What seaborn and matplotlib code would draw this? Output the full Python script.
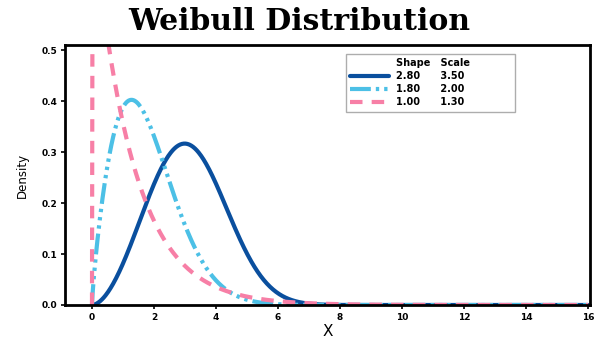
import numpy as np
import pandas as pd
import matplotlib
matplotlib.use("Agg")
import matplotlib.pyplot as plt
import seaborn as sns
from matplotlib.lines import Line2D

# Distribution parameters (from legend)
shapes = [2.80, 1.80, 1.00]
scales = [3.50, 2.00, 1.30]
colors = ["#0a4f9e", "#4cc0e6", "#f77fa6"]
x_ticks = [0, 2, 4, 6, 8, 10, 12, 14, 16]
y_ticks = [0.0, 0.1, 0.2, 0.3, 0.4, 0.5]

x = np.linspace(0, 16, 801)

def weibull_pdf(xv, k, lam):
    out = np.zeros_like(xv)
    m = xv > 0
    z = xv[m] / lam
    out[m] = (k / lam) * z ** (k - 1) * np.exp(-z ** k)
    return out

frames = []
for k, lam in zip(shapes, scales):
    frames.append(pd.DataFrame({"x": x, "density": weibull_pdf(x, k, lam),
                                "series": f"{k:.2f} {lam:.2f}"}))
df = pd.concat(frames, ignore_index=True)

sns.set_theme(style="white")
plt.rcParams["font.family"] = ["DejaVu Sans"]
plt.rcParams["text.color"] = "black"
plt.rcParams["axes.labelcolor"] = "black"
plt.rcParams["xtick.color"] = "black"
plt.rcParams["ytick.color"] = "black"

fig = plt.figure(figsize=(5.99, 3.39), dpi=100)
ax = fig.add_axes([65 / 599, 1 - 305 / 339, 525 / 599, 260 / 339])

dashes = [(None, None), (5, 1.2, 0.8, 1.2, 0.8, 1.2, 0.8, 1.2), (3, 2.2)]
series_names = df["series"].unique()
for name, c, d in zip(series_names, colors, dashes):
    sub = df[df["series"] == name]
    sns.lineplot(data=sub, x="x", y="density", ax=ax, color=c, lw=3)
    l = ax.lines[-1]
    if d[0] is not None:
        l.set_dashes(d)

ax.set_xlim(-0.87, 16.06)
ax.set_ylim(0, 0.51)
ax.set_xticks(x_ticks)
ax.set_yticks(y_ticks)
ax.set_yticklabels([f"{v:.1f}" for v in y_ticks])
ax.tick_params(axis="both", direction="out", length=3, width=1.2, labelsize=6.5,
               bottom=True, left=True, pad=2.5, color="black", labelcolor="black")
for lab in ax.get_xticklabels() + ax.get_yticklabels():
    lab.set_fontweight("bold")
for s in ax.spines.values():
    s.set_visible(True)
    s.set_color("black")
    s.set_linewidth(2)

ax.set_xlabel("X", fontsize=11, labelpad=2, color="black")
ax.set_ylabel("Density", fontsize=8.5, labelpad=9, color="black")

# Legend with a header row
handles = [Line2D([], [], color="none")]
labels = ["Shape" + " " * 3 + "Scale"]
for k, lam, c, d in zip(shapes, scales, colors, dashes):
    h = Line2D([], [], color=c, lw=3)
    if d[0] is not None:
        h.set_dashes(d)
    handles.append(h)
    labels.append(f"{k:.2f}" + " " * 6 + f"{lam:.2f}")
leg = ax.legend(handles, labels, loc="upper left",
                bbox_to_anchor=((346 - 65) / 525, 1 - 9 / 260, 169 / 525, 0.0),
                mode="expand",
                prop={"size": 7, "weight": "bold"}, frameon=True, fancybox=False,
                handlelength=4.0, labelspacing=0.3, borderpad=0.45,
                handletextpad=0.65, borderaxespad=0)
leg.get_frame().set_edgecolor("#999999")
leg.get_frame().set_linewidth(1)
for t in leg.get_texts():
    t.set_color("black")

fig.text(0.5, 1 - 22 / 339, "Weibull Distribution", ha="center", va="center",
         fontsize=21.5, fontweight="bold", family=["DejaVu Serif"], color="black")

fig.savefig("out.png", dpi=100)
